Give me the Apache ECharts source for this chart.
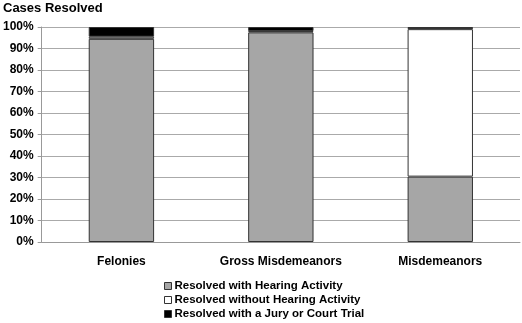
<!DOCTYPE html>
<html>
<head>
<meta charset="utf-8">
<script src="https://cdn.jsdelivr.net/npm/echarts@6/dist/echarts.min.js"></script>
<style>
  html, body { margin: 0; padding: 0; background: #fff; }
  #main { width: 522px; height: 323px; }
</style>
</head>
<body>
<div id="main"></div>
<script>
var categories = ['Felonies', 'Gross Misdemeanors', 'Misdemeanors'];
var seriesNames = ['Resolved with Hearing Activity', 'Resolved without Hearing Activity', 'Resolved with a Jury or Court Trial'];
var withHearing = [94.5, 97.5, 30.4];
var withoutHearing = [1.0, 0.6, 68.6];
var juryTrial = [4.5, 1.9, 1.0];
var yTicks = [0, 10, 20, 30, 40, 50, 60, 70, 80, 90, 100];

var font = 'Liberation Sans, Arial, sans-serif';
var myChart = echarts.init(document.getElementById('main'));

function barSeries(name, data, color) {
    return {
        name: name,
        type: 'bar',
        stack: 'total',
        barWidth: '41%',
        data: data,
        itemStyle: { color: color, borderColor: '#333', borderWidth: 1 }
    };
}

// one legend per row so the column never wraps
var legends = seriesNames.map(function (name, i) {
    return {
        left: 164,
        top: 280 + i * 14,
        padding: 0,
        itemWidth: 7,
        itemHeight: 7,
        icon: 'rect',
        itemStyle: { borderColor: '#333', borderWidth: 1 },
        textStyle: { fontFamily: font, fontSize: 11.5, fontWeight: 'bold', color: '#000', padding: [0, 0, 0, -2] },
        data: [name]
    };
});

myChart.setOption({
    animation: false,
    title: {
        text: 'Cases Resolved',
        left: -2,
        top: -3,
        textStyle: { fontFamily: font, fontSize: 13, fontWeight: 'bold', color: '#000' }
    },
    legend: legends,
    grid: { left: 41, right: 2, top: 27, bottom: 81 },
    xAxis: {
        type: 'category',
        data: categories,
        axisLine: { lineStyle: { color: '#999' } },
        axisTick: { show: false },
        axisLabel: { fontFamily: font, fontSize: 12, fontWeight: 'bold', color: '#000', margin: 14 }
    },
    yAxis: {
        type: 'value',
        min: yTicks[0],
        max: yTicks[yTicks.length - 1],
        interval: 10,
        axisLine: { show: true, lineStyle: { color: '#999' } },
        axisTick: { show: true, length: 4, lineStyle: { color: '#999' } },
        splitLine: { lineStyle: { color: '#aaa' } },
        axisLabel: { fontFamily: font, fontSize: 12, fontWeight: 'bold', color: '#000', formatter: '{value}%', margin: 8 }
    },
    series: [
        barSeries(seriesNames[0], withHearing, '#a6a6a6'),
        barSeries(seriesNames[1], withoutHearing, '#ffffff'),
        barSeries(seriesNames[2], juryTrial, '#000000')
    ]
});
</script>
</body>
</html>
